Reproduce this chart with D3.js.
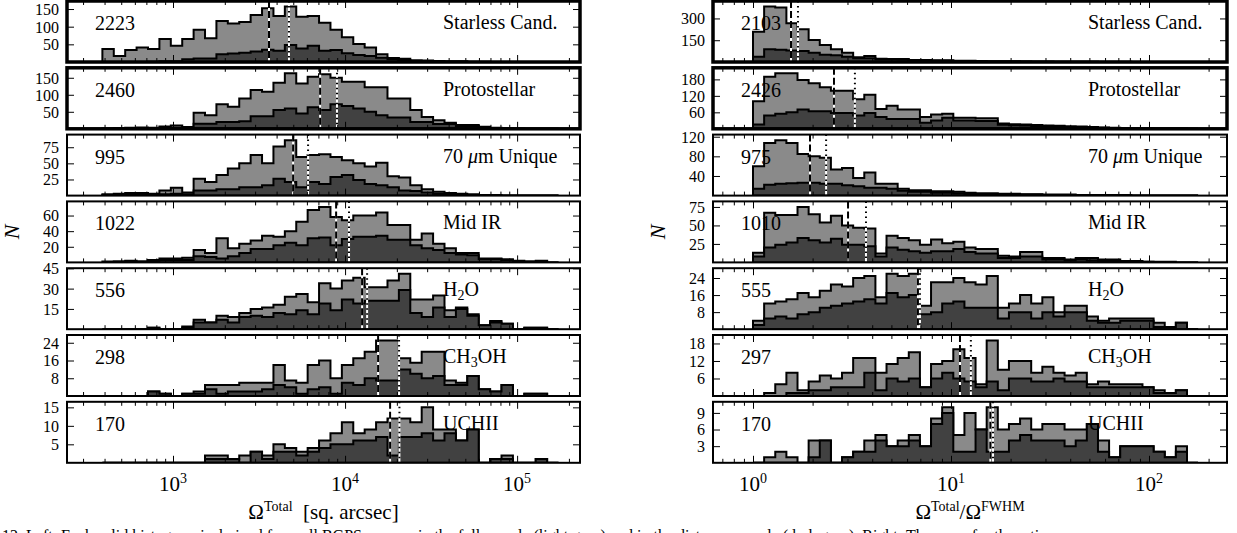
<!DOCTYPE html>
<html><head><meta charset="utf-8">
<script src="https://cdn.jsdelivr.net/npm/d3@7"></script>
<style>
body{margin:0;background:#fff}
svg{display:block}
text{font-family:"Liberation Serif","Times New Roman",serif;fill:#000}
</style>
</head><body>
<svg id="c" width="1237" height="533"></svg>
<script>
// ---------------- data ----------------
const categories = ["Starless Cand.", "Protostellar", "70 μm Unique", "Mid IR", "H2O", "CH3OH", "UCHII"];
const leftCounts  = [2223, 2460, 995, 1022, 556, 298, 170];
const rightCounts = [2103, 2426, 975, 1010, 555, 297, 170];

// log10 bin edges: first edge and width (in dex), 40 bins
const leftBinLo = 2.5895, leftBinW = 0.06628;
const rightBinLo = 0.0,   rightBinW = 0.0562;

// Left: Omega_Total histograms (full sample = light, sub-sample = dark)
const leftTotal = [
 [37,17,34,41,37,65,46,65,91,67,116,109,113,133,152,130,157,128,130,111,91,70,51,41,22,11,9,5,4,3,2,2,1,1,0,0,0,0,0,0],
 [1,2,3,4,3,7,10,5,47,40,72,65,89,114,109,135,163,133,153,160,150,138,138,122,122,89,89,55,35,25,18,11,11,6,3,2,1,0,0,0],
 [2,3,4,4,3,8,12,5,26,21,32,42,50,63,50,76,86,60,63,64,60,55,50,45,51,30,28,16,10,6,4,3,2,1,1,0,0,0,0,0],
 [1,1,2,1,3,5,5,6,16,12,31,18,24,28,34,33,40,52,67,71,58,54,60,60,64,48,48,29,37,24,18,12,12,5,5,4,2,1,2,0],
 [0,0,0,0,1,0,0,2,7,5,10,9,12,15,16,18,24,26,20,34,30,36,38,31,31,36,41,22,22,25,14,16,11,3,6,4,0,1,1,0],
 [0,0,0,0,2,1,0,1,2,5,5,5,6,6,6,14,7,6,14,16,8,14,17,20,25,25,17,15,20,20,7,6,9,3,2,5,0,1,1,0],
 [0,0,0,0,0,0,0,0,0,2,2,1,2,3,2,5,4,3,4,6,8,11,8,9,11,12,12,11,15,9,9,6,9,0,1,2,0,0,1,0]
];
const leftSub = [
 [0,0,0,0,1,2,2,8,10,10,22,24,26,30,35,32,48,38,46,32,34,25,20,17,12,8,6,3,2,1,1,1,0,0,0,0,0,0,0,0],
 [0,0,1,1,1,2,3,5,15,15,20,20,22,37,37,55,60,45,63,55,72,67,60,50,40,33,33,20,20,14,14,8,8,4,2,1,0,0,0,0],
 [1,0,1,1,1,2,3,2,8,8,10,10,13,13,16,26,21,13,21,18,29,32,24,18,16,13,8,7,5,3,2,1,1,0,0,0,0,0,0,0],
 [0,1,1,1,1,3,3,3,8,7,5,8,12,17,17,22,25,22,31,32,22,30,33,33,34,29,29,22,18,16,12,10,9,4,4,3,1,1,1,0],
 [0,0,0,0,1,0,0,1,5,5,7,5,9,10,9,12,11,14,11,19,14,22,19,21,21,21,29,12,9,16,9,15,10,3,5,4,0,1,1,0],
 [0,0,0,0,2,1,0,1,1,3,1,2,2,2,3,5,4,1,3,4,1,6,5,8,7,7,12,10,8,9,5,5,9,3,2,5,0,1,1,0],
 [0,0,0,0,0,0,0,0,0,1,1,1,0,3,1,3,3,2,3,4,5,5,6,6,7,2,7,7,8,6,8,6,9,0,1,1,0,0,1,0]
];
// Right: Omega_Total / Omega_FWHM histograms
const rightTotal = [
 [209,382,375,267,225,152,117,87,64,32,41,23,21,21,14,14,12,12,8,8,7,6,5,5,4,3,3,2,2,2,1,1,1,1,0,0,0,0,0,0],
 [100,190,202,202,178,166,151,139,139,108,124,72,84,70,70,43,52,55,40,40,38,38,19,17,16,14,12,11,9,8,7,5,4,3,2,2,1,1,1,0],
 [60,107,113,107,85,80,77,53,56,36,47,24,24,14,11,11,9,9,8,6,5,5,4,4,3,3,2,2,2,1,1,1,1,1,0,0,0,0,0,0],
 [13,67,64,64,75,65,54,63,50,47,46,12,36,33,30,24,31,26,28,20,18,18,9,8,14,14,6,6,4,6,6,4,4,2,2,1,1,1,0,0],
 [4,12,13,14,17,15,18,21,20,24,25,15,26,25,26,11,22,22,24,22,21,25,10,12,16,12,15,8,11,11,6,4,5,5,5,5,3,1,3,0],
 [0,1,4,8,2,5,7,6,8,13,13,8,11,13,15,3,11,12,16,13,4,19,9,12,12,8,10,8,7,8,4,5,4,4,4,3,2,1,2,0],
 [0,1,2,1,0,4,4,0,1,2,4,5,3,4,5,3,8,10,5,9,6,10,6,7,8,6,7,7,6,6,7,4,1,3,3,3,2,1,3,0]
];
const rightSub = [
 [37,87,85,80,76,64,50,46,37,25,25,18,17,15,11,10,9,8,6,6,5,4,4,3,3,2,2,1,1,1,1,0,0,0,0,0,0,0,0,0],
 [16,48,55,60,70,64,64,58,58,48,58,43,36,36,36,22,30,40,30,30,28,28,15,13,12,10,9,8,7,6,5,4,3,2,2,1,1,1,1,0],
 [14,22,24,25,26,26,24,24,21,19,16,16,14,10,8,8,6,6,5,4,3,3,3,2,2,2,1,1,1,0,0,0,0,0,0,0,0,0,0,0],
 [8,20,24,27,33,30,27,32,24,24,22,8,20,17,15,13,15,15,18,14,12,12,6,6,8,8,4,4,3,4,3,2,2,1,1,1,0,0,0,0],
 [2,5,6,5,7,8,10,11,12,13,14,12,17,15,16,7,8,12,13,10,10,10,5,8,8,5,8,6,8,8,4,3,3,4,4,4,1,1,3,0],
 [0,0,0,1,1,2,2,3,3,3,8,2,6,5,6,3,6,8,6,5,3,5,2,6,6,5,5,6,5,5,3,3,3,3,3,3,1,1,2,0],
 [0,0,0,0,0,1,4,0,1,2,2,4,3,3,4,3,7,9,2,2,6,2,2,4,5,4,4,4,3,4,7,2,1,3,3,3,2,1,2,0]
];
// medians (dashed = full sample, dotted = sub-sample)
const leftMedDashed  = [3614, 7161, 4989, 8872, 12560, 15560, 18270];
const leftMedDotted  = [4720, 8974, 6095, 10544, 13430, 20600, 20700];
const rightMedDashed = [1.556, 2.564, 1.94, 3.02, 6.81, 11.1, 15.8];
const rightMedDotted = [1.687, 3.27, 2.34, 3.72, 6.97, 12.6, 16.3];
// y tick labels
const leftYTicks  = [[50,100,150],[50,100,150],[25,50,75],[20,40,60],[15,30,45],[8,16,24],[5,10,15]];
const rightYTicks = [[150,300],[60,120,180],[40,80,120],[25,50,75],[8,16,24],[6,12,18],[3,6,9]];
// x axis limits and major ticks
const leftXDomain  = [242, 232000];
const rightXDomain = [0.628, 247.7];
const leftXMajor  = [1e3, 1e4, 1e5];
const rightXMajor = [1, 10, 100];

// ---------------- drawing ----------------
const svg = d3.select("#c");
const LIGHT = "#8a8a8a", DARK = "#414141";
const panelTop = i => 1 + 66.8 * i;
const panelH = 61;

const cols = [
  {x0: 67,  x1: 580,  dom: leftXDomain,  lo: leftBinLo,  w: leftBinW,  tot: leftTotal,  sub: leftSub,
   n: leftCounts,  m1: leftMedDashed,  m2: leftMedDotted,  yt: leftYTicks,  maj: leftXMajor, labX: 376},
  {x0: 713, x1: 1227, dom: rightXDomain, lo: rightBinLo, w: rightBinW, tot: rightTotal, sub: rightSub,
   n: rightCounts, m1: rightMedDashed, m2: rightMedDotted, yt: rightYTicks, maj: rightXMajor, labX: 375}
];

function catLabel(sel, name) {
  const sub = (base, digit, rest) => {
    sel.append("tspan").text(base);
    sel.append("tspan").attr("font-size", 14).attr("dy", 4).text(digit);
    sel.append("tspan").attr("dy", -4).text(rest);
  };
  if (name === "H2O") sub("H", "2", "O");
  else if (name === "CH3OH") sub("CH", "3", "OH");
  else if (name.startsWith("70")) {
    sel.append("tspan").text("70 ");
    sel.append("tspan").attr("font-style", "italic").text("μ");
    sel.append("tspan").text("m Unique");
  } else sel.text(name);
}

cols.forEach((c, ci) => {
  const x = d3.scaleLog().domain(c.dom).range([c.x0, c.x1]);
  const edges = d3.range(41).map(k => Math.pow(10, c.lo + k * c.w));
  const allTicks = x.ticks();
  const majors = c.maj;
  const minors = allTicks.filter(v => !majors.some(m => Math.abs(m - v) / m < 1e-6));

  for (let i = 0; i < 7; i++) {
    const top = panelTop(i), bot = top + panelH;
    const ymax = 1.1 * d3.max(c.tot[i]);
    const y = d3.scaleLinear().domain([0, ymax]).range([bot, top]);
    const cid = `clip${ci}_${i}`;
    svg.append("clipPath").attr("id", cid).append("rect")
      .attr("x", c.x0).attr("y", top).attr("width", c.x1 - c.x0).attr("height", panelH);
    const g = svg.append("g").attr("clip-path", `url(#${cid})`);

    const area = d3.area().x(d => x(d[0])).y0(y(0)).y1(d => y(d[1])).curve(d3.curveStepAfter);
    const pts = vals => {
      const p = vals.map((v, k) => [edges[k], v]);
      p.push([edges[vals.length], vals[vals.length - 1]]);
      return p;
    };
    g.append("path").attr("d", area(pts(c.tot[i]))).attr("fill", LIGHT)
      .attr("stroke", "#000").attr("stroke-width", 2).attr("stroke-linejoin", "miter");
    g.append("path").attr("d", area(pts(c.sub[i]))).attr("fill", DARK)
      .attr("stroke", "#000").attr("stroke-width", 2).attr("stroke-linejoin", "miter");

    // median lines
    [[c.m1[i], "7,3"], [c.m2[i], "1.5,3.5"]].forEach(([m, dash]) => {
      const xm = x(m);
      g.append("line").attr("x1", xm).attr("x2", xm).attr("y1", bot).attr("y2", top)
        .attr("stroke", "#fff").attr("stroke-width", 2);
      g.append("line").attr("x1", xm).attr("x2", xm).attr("y1", top).attr("y2", bot)
        .attr("stroke", "#000").attr("stroke-width", 2).attr("stroke-dasharray", dash);
    });

    // x ticks (top & bottom, inward)
    [[bot, d3.axisBottom], [top, d3.axisTop]].forEach(([pos, gen]) => {
      [[majors, 7], [minors, 4]].forEach(([vals, len]) => {
        svg.append("g").attr("transform", `translate(0,${pos})`)
          .call(gen(x).tickValues(vals).tickSize(-len).tickFormat(""))
          .call(s => s.select(".domain").remove())
          .call(s => s.selectAll("text").remove())
          .call(s => s.selectAll("line").attr("stroke-width", 1));
      });
    });
    // y ticks
    const ya = svg.append("g").attr("transform", `translate(${c.x0},0)`)
      .call(d3.axisLeft(y).tickValues(c.yt[i]).tickSize(-7).tickPadding(8))
      .call(s => s.select(".domain").remove());
    ya.attr("font-family", null).attr("font-size", null);
    ya.selectAll("text").attr("font-size", 16).attr("dy", "0.34em");
    ya.selectAll("line").attr("stroke-width", 1);
    svg.append("g").attr("transform", `translate(${c.x1},0)`)
      .call(d3.axisRight(y).tickValues(c.yt[i]).tickSize(-7).tickFormat(""))
      .call(s => s.select(".domain").remove())
      .call(s => s.selectAll("text").remove())
      .call(s => s.selectAll("line").attr("stroke-width", 1));

    // frame
    const lw = i < 2 ? 3.5 : 2;
    svg.append("rect").attr("x", c.x0).attr("y", top).attr("width", c.x1 - c.x0).attr("height", panelH)
      .attr("fill", "none").attr("stroke", "#000").attr("stroke-width", lw);

    // labels
    svg.append("text").attr("x", c.x0 + 28).attr("y", top + 29).attr("font-size", 20).text(c.n[i]);
    catLabel(svg.append("text").attr("x", c.x0 + c.labX).attr("y", top + 28).attr("font-size", 20), categories[i]);
  }

  // x tick labels (bottom panel only)
  const bot = panelTop(6) + panelH;
  majors.forEach(m => {
    const t = svg.append("text").attr("x", x(m)).attr("y", bot + 28).attr("text-anchor", "middle").attr("font-size", 21);
    t.append("tspan").text("10");
    t.append("tspan").attr("dy", -8).attr("font-size", 14).text(Math.round(Math.log10(m)));
  });

  // y axis label
  svg.append("text").attr("transform", `translate(${c.x0 - 48},232) rotate(-90)`)
    .attr("text-anchor", "middle").attr("font-size", 22).attr("font-style", "italic").text("N");

  // x axis label
  const xl = svg.append("text").attr("x", (c.x0 + c.x1) / 2).attr("y", bot + 56)
    .attr("text-anchor", "middle").attr("font-size", 21);
  xl.append("tspan").text("Ω");
  xl.append("tspan").attr("dy", -8).attr("font-size", 14).text("Total");
  if (ci === 0) {
    xl.append("tspan").attr("dy", 8).text("\u00a0\u00a0[sq. arcsec]");
  } else {
    xl.append("tspan").attr("dy", 8).text("/Ω");
    xl.append("tspan").attr("dy", -8).attr("font-size", 14).text("FWHM");
  }
});

// truncated caption line at the bottom edge
svg.append("text").attr("x", 2).attr("y", 541).attr("font-size", 16)
  .text("12.   Left: Each solid histogram is derived from all BGPS sources in the full sample (light gray) and in the distance sample (dark gray).   Right: The same for the ratio");
</script>
</body></html>
